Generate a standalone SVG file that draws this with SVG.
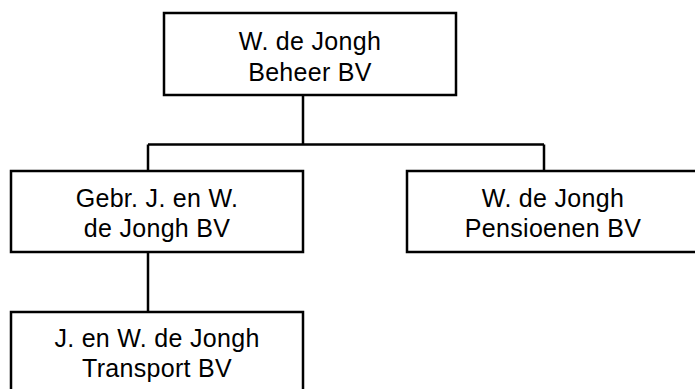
<svg xmlns="http://www.w3.org/2000/svg" width="695" height="389" viewBox="0 0 695 389">
<style>
.box{fill:#fff;stroke:#000;stroke-width:2.5}
.lbl{font-family:"Liberation Sans",Arial,sans-serif;font-size:25px;letter-spacing:0.3px;fill:#000;text-anchor:middle}
.con{fill:none;stroke:#000;stroke-width:2.5}
</style>
<rect width="695" height="389" fill="#fff"/>
<g id="connectors">
<path class="con" d="M303,95 V144.5 M148,144.5 H544 M148,144.5 V171 M544,144.5 V171 M148,252 V312"/>
</g>
<g id="node-beheer">
<rect class="box" x="164" y="13" width="292" height="82"/>
<text class="lbl" x="310" y="49.5">W. de Jongh</text>
<text class="lbl" x="310" y="80.5">Beheer BV</text>
</g>
<g id="node-gebr">
<rect class="box" x="11" y="171" width="292" height="81"/>
<text class="lbl" x="157" y="207">Gebr. J. en W.</text>
<text class="lbl" x="157" y="237">de Jongh BV</text>
</g>
<g id="node-pensioenen">
<rect class="box" x="407" y="171" width="292" height="81"/>
<text class="lbl" x="553" y="207">W. de Jongh</text>
<text class="lbl" x="553" y="237">Pensioenen BV</text>
</g>
<g id="node-transport">
<rect class="box" x="11" y="312" width="292" height="81"/>
<text class="lbl" x="157" y="347">J. en W. de Jongh</text>
<text class="lbl" x="157" y="377">Transport BV</text>
</g>
</svg>
